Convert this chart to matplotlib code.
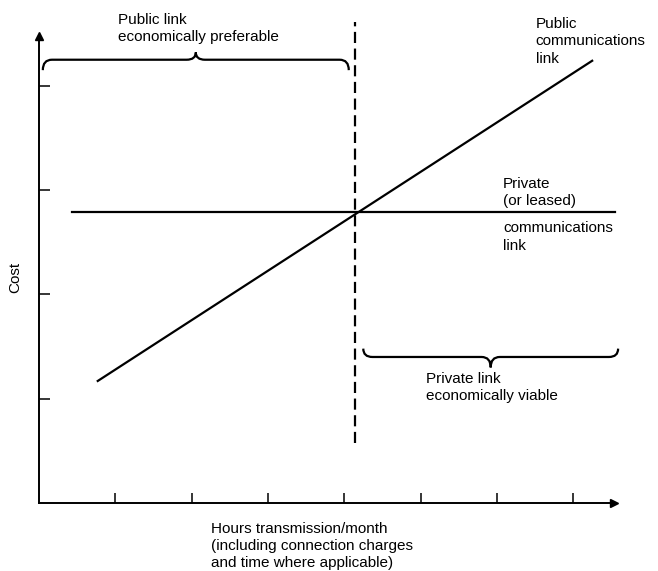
import matplotlib
matplotlib.use('Agg')
import matplotlib.pyplot as plt
from matplotlib.path import Path
from matplotlib.patches import PathPatch

# chart data (arbitrary units: tick spacing = 1)
hour_ticks = [1, 2, 3, 4, 5, 6, 7]
cost_ticks = [1, 2, 3, 4]
public_hours = [0.77, 7.25]
public_cost = [1.17, 4.24]
private_hours = [0.43, 7.55]
private_cost = [2.79, 2.79]
breakeven_hours = 4.14
breakeven_span = [0.575, 4.61]
public_region = [0.05, 4.06]
private_region = [4.25, 7.59]

plt.rcParams['font.family'] = ['Liberation Sans', 'DejaVu Sans']
plt.rcParams['font.size'] = 11

fig = plt.figure(figsize=(6.58, 5.71), dpi=100)
ax = fig.add_axes([39 / 658, 68 / 571, 7.54 * 76.3 / 658, 4.48 * 104.3 / 571])
ax.set_xlim(0, 7.54)
ax.set_ylim(0, 4.48)

for s in ['top', 'right']:
    ax.spines[s].set_visible(False)
for s in ['left', 'bottom']:
    ax.spines[s].set_linewidth(1.4)
ax.set_xticks(hour_ticks)
ax.set_yticks(cost_ticks)
ax.set_xticklabels([])
ax.set_yticklabels([])
ax.tick_params(axis='x', direction='in', length=7, width=1.1)
ax.tick_params(axis='y', direction='in', length=8, width=1.1)

# axis arrows
ax.plot(1, 0, '>k', markersize=6, transform=ax.get_yaxis_transform(), clip_on=False)
ax.plot(0, 1, '^k', markersize=6, transform=ax.get_xaxis_transform(), clip_on=False)

ax.plot(public_hours, public_cost, color='k', lw=1.6, clip_on=False)
ax.plot(private_hours, private_cost, color='k', lw=1.6, clip_on=False)
ax.plot([breakeven_hours, breakeven_hours], breakeven_span, color='k', lw=1.6,
        linestyle=(0, (5, 2.5)), clip_on=False)


def brace(x0, x1, y, depth, tip):
    # curly brace; ends at y+depth, tip at y+tip
    xm = (x0 + x1) / 2
    r = 0.12
    verts = [(x0, y + depth), (x0, y), (x0 + r, y), (xm - r, y), (xm, y), (xm, y + tip),
             (xm, y + tip), (xm, y), (xm + r, y), (x1 - r, y), (x1, y), (x1, y + depth)]
    codes = [Path.MOVETO, Path.CURVE3, Path.CURVE3, Path.LINETO, Path.CURVE3, Path.CURVE3,
             Path.MOVETO, Path.CURVE3, Path.CURVE3, Path.LINETO, Path.CURVE3, Path.CURVE3]
    ax.add_patch(PathPatch(Path(verts, codes), fill=False, lw=1.6, clip_on=False))


brace(public_region[0], public_region[1], 4.25, -0.1, 0.07)
brace(private_region[0], private_region[1], 1.40, 0.08, -0.1)

ls = 1.3
ax.text(1.035, 4.70, 'Public link\neconomically preferable', ha='left', va='top',
        linespacing=ls)
ax.text(6.51, 4.66, 'Public\ncommunications\nlink', ha='left', va='top', linespacing=ls)
ax.text(6.08, 2.83, 'Private\n(or leased)', ha='left', va='bottom', linespacing=ls)
ax.text(6.08, 2.70, 'communications\nlink', ha='left', va='top', linespacing=ls)
ax.text(5.07, 1.26, 'Private link\neconomically viable', ha='left', va='top',
        linespacing=ls)
ax.text(2.26, -0.18, 'Hours transmission/month\n(including connection charges\n'
        'and time where applicable)', ha='left', va='top', linespacing=ls)
ax.text(-0.31, 2.16, 'Cost', rotation=90, ha='center', va='center')

fig.savefig('out.png', dpi=100)
